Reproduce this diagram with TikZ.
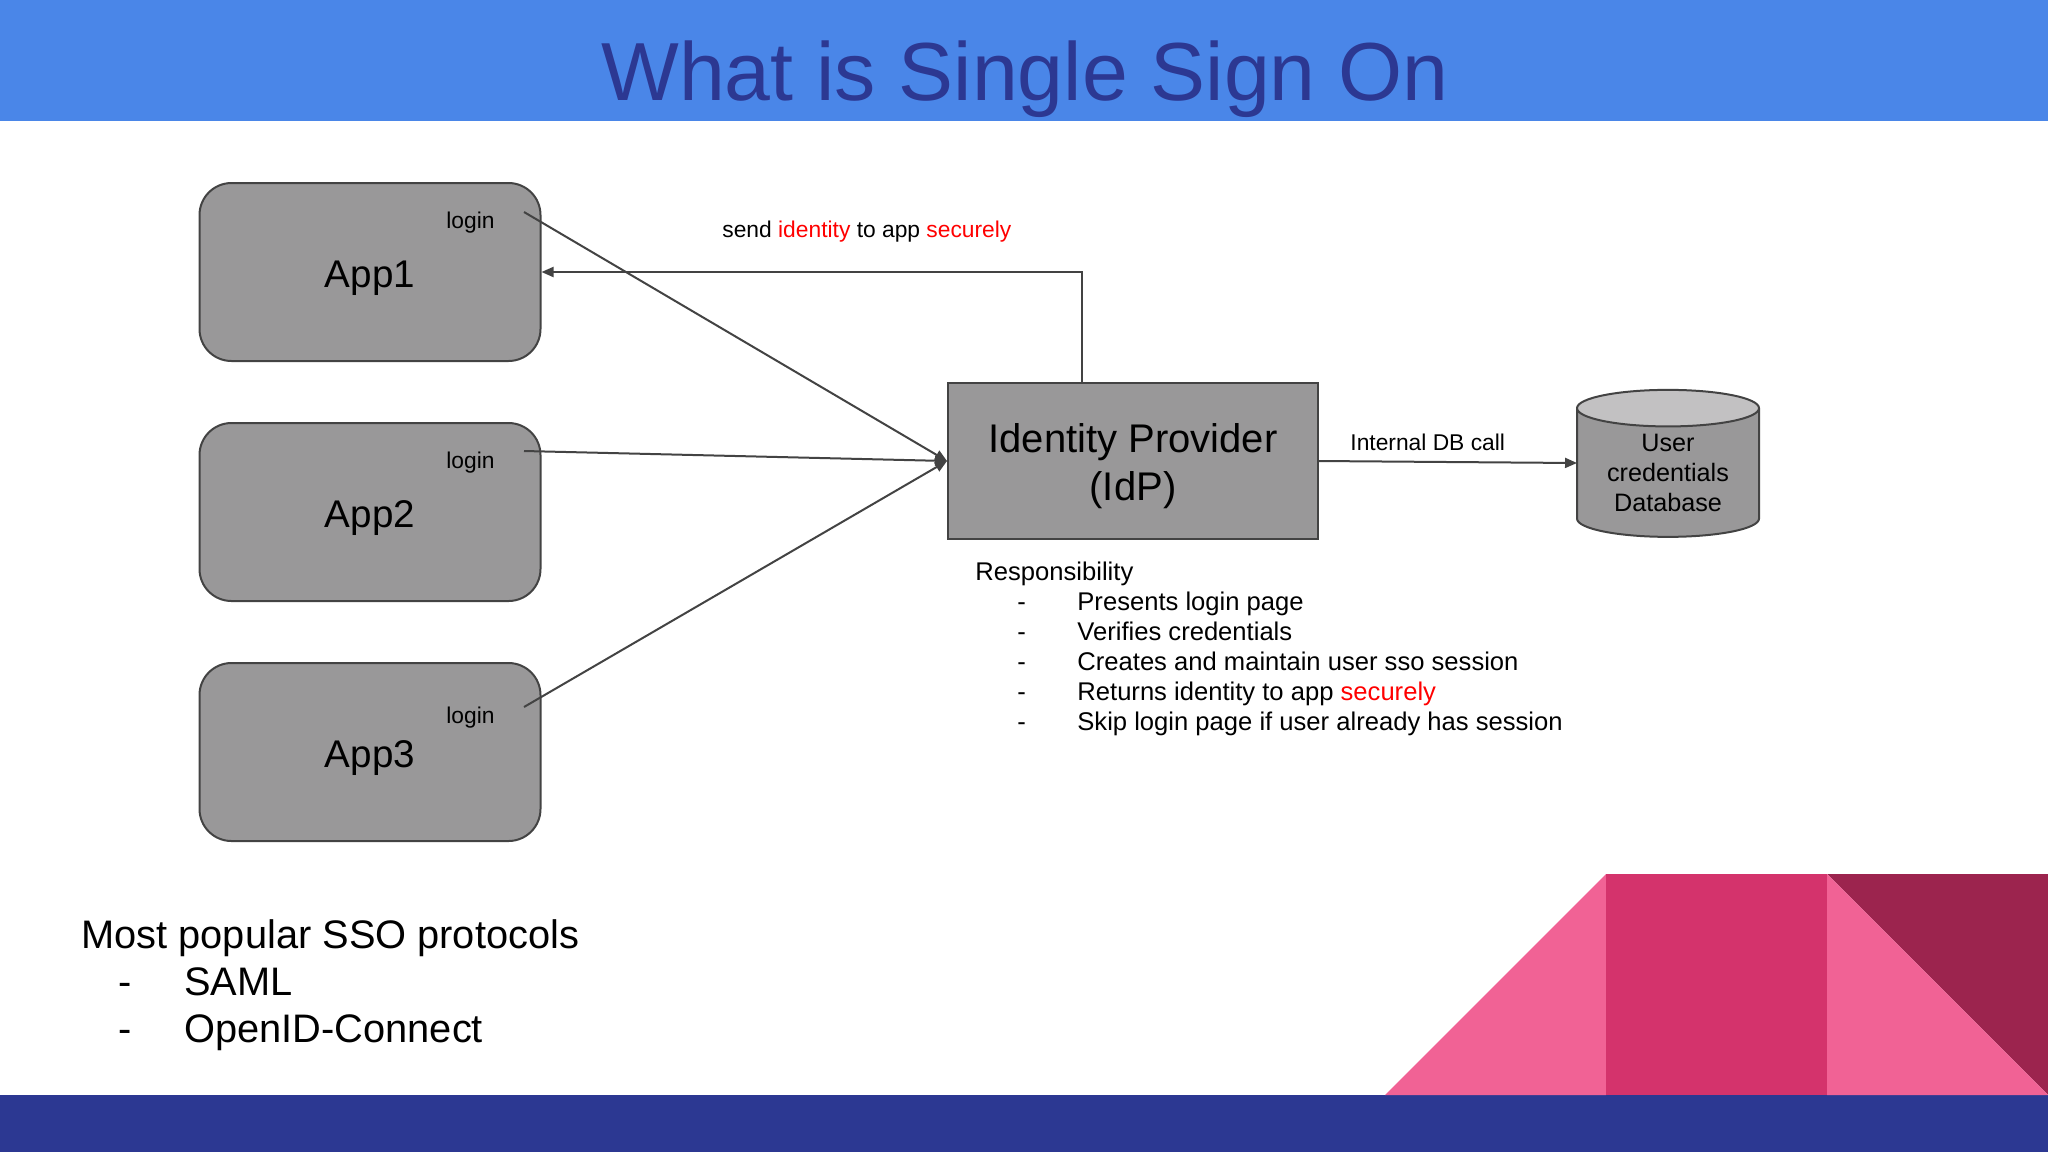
\documentclass[tikz,border=0pt]{standalone}
\usepackage{fontspec}
\setmainfont{Liberation Sans}
\usetikzlibrary{arrows.meta,shapes.geometric}
\definecolor{hdrblue}{HTML}{4A86E8}
\definecolor{navy}{HTML}{2C3892}
\definecolor{boxgray}{HTML}{999899}
\definecolor{linegray}{HTML}{434343}
\definecolor{pinklight}{HTML}{F16295}
\definecolor{pinkmid}{HTML}{D4336C}
\definecolor{pinkdark}{HTML}{9C244E}
\newcommand{\sz}[1]{\fontsize{#1}{#1}\selectfont}
\begin{document}
\begin{tikzpicture}[x=.5pt,y=-.5pt,
        appbox/.style={draw=linegray,fill=boxgray,line width=1pt,rounded corners=16pt,minimum width=170.5pt,minimum height=89pt,inner sep=0pt,text height=15.2pt,text depth=0pt,font=\sz{19.3}},
        loginlbl/.style={anchor=base west,inner sep=0pt,font=\sz{11.4}},
        small/.style={anchor=base west,inner sep=0pt,font=\sz{12.8}},
        big/.style={anchor=base west,inner sep=0pt,font=\sz{19.9}},
        conn/.style={draw=linegray,line width=1pt,-{Triangle[length=6pt,width=5pt]}}]
    \useasboundingbox (0,0) rectangle (2048,1152);
    \fill[hdrblue] (0,0) rectangle (2048,121);
    \fill[navy] (0,1095) rectangle (2048,1152);
    \fill[pinkdark] (1827,874)--(2048,874)--(2048,1095)--cycle;
    \fill[pinklight] (1385,1095)--(1606,874)--(1606,1095)--cycle;
    \fill[pinklight] (1827,874)--(2048,1095)--(1827,1095)--cycle;
    \fill[pinkmid] (1606,874) rectangle (1827,1095);
    \node[font=\sz{41.2},text=navy,inner sep=0pt,anchor=base] at (1025,100) (title) {What is Single Sign On};

    \node[appbox] at (370,272) (app1) {App1};
    \node[appbox] at (370,512) (app2) {App2};
    \node[appbox] at (370,752) (app3) {App3};
    \node[loginlbl] at (446,228) (login1) {login};
    \node[loginlbl] at (446,468) (login2) {login};
    \node[loginlbl] at (446,723) (login3) {login};
    \coordinate (from1) at (524,212);
    \coordinate (from2) at (524,451);
    \coordinate (from3) at (524,707);

    \node[draw=linegray,fill=boxgray,line width=1pt,minimum width=185pt,minimum height=78pt,inner sep=0pt,align=center,text height=39.9pt,text depth=0pt,font=\fontsize{20}{24}\selectfont] at (1133,461) (idp) {Identity Provider\\(IdP)};
    \node[cylinder,shape border rotate=90,aspect=.3,draw=linegray,line width=1pt,cylinder uses custom fill,cylinder body fill=boxgray,cylinder end fill=boxgray!60,minimum width=91pt,minimum height=73.5pt,inner sep=0pt,align=center,font=\fontsize{12.6}{15}\selectfont] at (1668,473) (db) {User\\credentials\\Database};
    \coordinate (idpout) at (1082,383);
    \coordinate (dbin) at (1577,463);

    \draw[conn] (from1)--(idp.west);
    \draw[conn] (from2)--(idp.west);
    \draw[conn] (from3)--(idp.west);
    \draw[conn] (idpout)|-(app1.east);
    \draw[conn] (idp.east)--(dbin);

    \node[anchor=base west,inner sep=0pt,font=\sz{11.4}] at (722,237) (sendlbl) {send \textcolor{red}{identity} to app \textcolor{red}{securely}};
    \node[anchor=base west,inner sep=0pt,font=\sz{11.4}] at (1350,450) (dblbl) {Internal DB call};

    % responsibility list
    \node[small] at (975,580) (resp) {Responsibility};
    \foreach \i/\item in {1/Presents login page,2/Verifies credentials,3/Creates and maintain user sso session,4/{Returns identity to app \textcolor{red}{securely}},5/Skip login page if user already has session}{
        \node[small] at (1017,580+30*\i) (dash\i) {-};
        \node[small] at (1077,580+30*\i) (resp\i) {\item};
    }

    % protocols
    \node[big] at (81,948) (proto) {Most popular SSO protocols};
    \node[big] at (118,995) (dashA) {-};
    \node[big] at (184,995) (saml) {SAML};
    \node[big] at (118,1042) (dashB) {-};
    \node[big] at (184,1042) (oidc) {OpenID-Connect};
\end{tikzpicture}
\end{document}
